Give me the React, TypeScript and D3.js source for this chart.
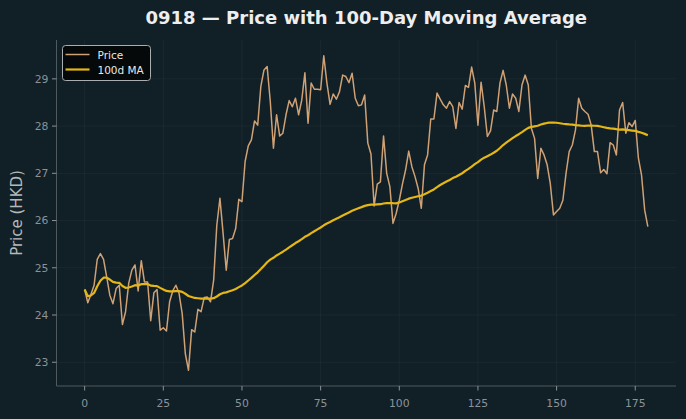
import React from "react";
import * as d3 from "d3";

// Daily closing prices (HKD), 180 sessions
const prices: number[] = [
  24.54, 24.26, 24.44, 24.63, 25.18, 25.3, 25.18, 24.81, 24.42, 24.24,
  24.56, 24.63, 23.8, 24.07, 24.67, 24.95, 25.06, 24.51, 25.15, 24.7,
  24.7, 23.88, 24.47, 24.54, 23.68, 23.73, 23.66, 24.28, 24.51, 24.63,
  24.46, 24.03, 23.18, 22.83, 23.69, 23.64, 24.12, 24.07, 24.37, 24.38,
  24.28, 24.74, 25.9, 26.47, 25.73, 24.95, 25.6, 25.62, 25.83, 26.45,
  26.4, 27.25, 27.58, 27.71, 28.11, 28.02, 28.84, 29.19, 29.26, 28.52,
  27.53, 28.24, 27.79, 27.85, 28.24, 28.54, 28.41, 28.59, 28.24, 28.55,
  29.13, 28.06, 28.91, 28.78, 28.78, 28.77, 29.49, 28.91, 28.46, 28.68,
  28.57, 28.73, 29.08, 29.05, 28.92, 29.12, 28.59, 28.43, 28.45, 28.66,
  27.64, 27.41, 26.31, 26.77, 26.82, 27.79, 27.0, 26.72, 25.94, 26.15,
  26.43, 26.77, 27.07, 27.47, 27.14, 26.93, 26.68, 26.26, 27.18, 27.39,
  28.15, 28.15, 28.7, 28.57, 28.45, 28.38, 28.52, 28.41, 27.95, 28.5,
  28.36, 28.86, 28.82, 29.25, 28.91, 28.02, 28.93, 28.41, 27.78, 27.9,
  28.34, 28.31, 28.91, 29.18, 28.87, 28.38, 28.68, 28.59, 28.31, 28.87,
  29.08, 28.87, 27.95, 27.74, 26.89, 27.53, 27.39, 27.18, 26.78, 26.12,
  26.19, 26.26, 26.43, 27.0, 27.46, 27.6, 27.92, 28.59, 28.38, 28.31,
  28.25, 28.02, 27.46, 27.46, 27.01, 27.08, 26.99, 27.65, 27.6, 27.39,
  28.34, 28.5, 27.85, 28.07, 27.99, 28.12, 27.32, 26.96, 26.22, 25.87,
];

const xTicks: number[] = [0, 25, 50, 75, 100, 125, 150, 175];
const yTicks: number[] = [23, 24, 25, 26, 27, 28, 29];
const windowSize = 100;

// Trailing moving average (uses whatever history is available at the start)
const movingAvg: number[] = prices.map((_, i) => {
  const from = Math.max(0, i - windowSize + 1);
  return d3.mean(prices.slice(from, i + 1)) as number;
});

const W = 686;
const H = 419;
const M = { left: 56.5, right: 10, top: 40, bottom: 33 };
const BG = "#111f27";
const PRICE_C = "#cfa174";
const MA_C = "#e4b716";
const TICK_C = "#8c9397";
const SPINE_C = "#4f5a5f";
const FONT = "DejaVu Sans, sans-serif";

export default function App() {
  const n = prices.length;
  const xPad = (n - 1) * 0.05;
  const lo = d3.min(prices) as number;
  const hi = d3.max(prices) as number;
  const yPad = (hi - lo) * 0.05;

  const x = d3
    .scaleLinear()
    .domain([-xPad, n - 1 + xPad])
    .range([M.left, W - M.right]);
  const y = d3
    .scaleLinear()
    .domain([lo - yPad, hi + yPad])
    .range([H - M.bottom, M.top]);

  const line = d3
    .line<number>()
    .x((_, i) => x(i))
    .y((d) => y(d));

  const x0 = M.left;
  const x1 = W - M.right;
  const y0 = H - M.bottom;
  const y1 = M.top;

  return (
    <svg
      width={W}
      height={H}
      style={{ position: "absolute", left: 0, top: 0, background: BG }}
      fontFamily={FONT}
    >
      <rect width={W} height={H} fill={BG} />

      {/* grid */}
      {xTicks.map((t) => (
        <line key={"gx" + t} x1={x(t)} x2={x(t)} y1={y1} y2={y0} stroke="#ffffff" strokeOpacity={0.04} />
      ))}
      {yTicks.map((t) => (
        <line key={"gy" + t} x1={x0} x2={x1} y1={y(t)} y2={y(t)} stroke="#ffffff" strokeOpacity={0.04} />
      ))}

      {/* series */}
      <path d={line(prices) as string} fill="none" stroke={PRICE_C} strokeWidth={1.5} strokeLinejoin="round" />
      <path d={line(movingAvg) as string} fill="none" stroke={MA_C} strokeWidth={2.2} strokeLinejoin="round" />

      {/* spines */}
      <line x1={x0} x2={x0} y1={y1} y2={y0} stroke={SPINE_C} strokeWidth={1} />
      <line x1={x0} x2={x1} y1={y0} y2={y0} stroke={SPINE_C} strokeWidth={1} />

      {/* x ticks */}
      {xTicks.map((t) => (
        <g key={"xt" + t}>
          <line x1={x(t)} x2={x(t)} y1={y0} y2={y0 + 4.5} stroke={TICK_C} />
          <text x={x(t)} y={y0 + 21} textAnchor="middle" fontSize={10.8} fill={TICK_C}>
            {t}
          </text>
        </g>
      ))}

      {/* y ticks */}
      {yTicks.map((t) => (
        <g key={"yt" + t}>
          <line x1={x0 - 4.5} x2={x0} y1={y(t)} y2={y(t)} stroke={TICK_C} />
          <text x={x0 - 8} y={y(t) + 3.9} textAnchor="end" fontSize={10.8} fill={TICK_C}>
            {t}
          </text>
        </g>
      ))}

      {/* axis label */}
      <text
        transform={`translate(22, ${(y0 + y1) / 2}) rotate(-90)`}
        textAnchor="middle"
        fontSize={15}
        fill="#b4b9bb"
      >
        Price (HKD)
      </text>

      {/* title */}
      <text x={(x0 + x1) / 2} y={24} textAnchor="middle" fontSize={18} fontWeight="bold" fill="#eeeeee">
        0918 — Price with 100-Day Moving Average
      </text>

      {/* legend */}
      <g transform="translate(62.5, 45.5)">
        <rect width={88} height={35} rx={3} fill="#050909" stroke="#a9aeb0" strokeWidth={1} />
        <line x1={3} x2={27} y1={9} y2={9} stroke={PRICE_C} strokeWidth={1.5} />
        <line x1={3} x2={27} y1={24} y2={24} stroke={MA_C} strokeWidth={2.2} />
        <text x={35} y={13} fontSize={10.5} fill="#e8e8e8">
          Price
        </text>
        <text x={35} y={28} fontSize={10.5} fill="#e8e8e8">
          100d MA
        </text>
      </g>
    </svg>
  );
}
